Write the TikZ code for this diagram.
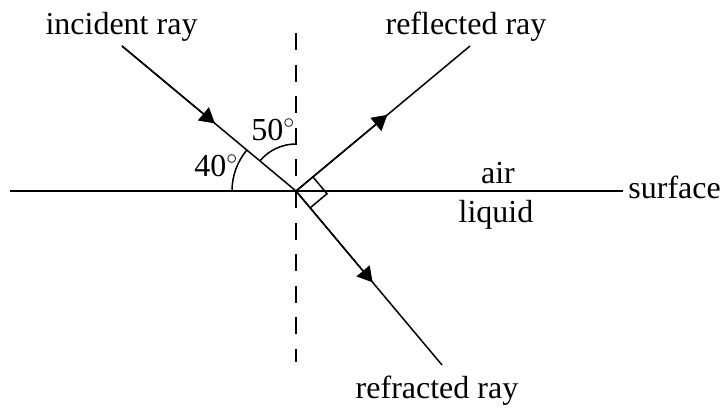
\documentclass[tikz,border=0pt]{standalone}
\usepackage{fontspec}
\setmainfont{Liberation Serif}
\usetikzlibrary{calc,arrows.meta}
\begin{document}
\begin{tikzpicture}[x=0.5pt,y=0.5pt,
  ray/.style={line width=0.75pt},
  tip/.style={line width=0.75pt,-{Triangle[length=7.5pt,width=8.5pt]}},
  lbl/.style={font=\fontsize{16}{19}\selectfont, inner sep=0pt, anchor=base}]
\useasboundingbox (0,0) rectangle (722,412);
% points
\coordinate (O) at (296,221);
\coordinate (I) at (122,366);
\coordinate (R) at (470,366);
\coordinate (F) at (442,47);
\coordinate (L) at (10,221);
\coordinate (S) at (623,221);
\coordinate (T) at (296,379);
\coordinate (B) at (296,50);
% surface and normal
\draw[ray] (L) -- (S);
\draw[ray, dash pattern=on 8.5pt off 7.3pt] (T) -- (B);
% rays
\draw[ray] (I) -- (O);
\draw[ray] (O) -- (R);
\draw[ray] (O) -- (F);
\draw[tip] (I) -- ($(I)!0.534!(O)$);
\draw[tip] (O) -- ($(O)!0.525!(R)$);
\draw[tip] (O) -- ($(O)!0.525!(F)$);
% right angle mark
\coordinate (ra) at ($(O)!11pt!(R)$);
\coordinate (rb) at ($(O)!11pt!(F)$);
\draw[ray] (ra) -- ($(ra)+(rb)-(O)$) -- (rb);
% angle arcs
\draw[ray] ($(O)+(180:32pt)$) arc[start angle=180, end angle=140.2, radius=32pt];
\draw[ray] ($(O)+(140.2:23.5pt)$) arc[start angle=140.2, end angle=90, radius=23.5pt];
% labels
\node[lbl] (inc) at (121.5,377) {incident ray};
\node[lbl] (refl) at (466,377) {reflected ray};
\node[lbl] (refr) at (437,14) {refracted ray};
\node[lbl] (air) at (498,228) {air};
\node[lbl] (liq) at (496,189) {liquid};
\node[lbl, anchor=base west] (surf) at (628,213) {surface};
\node[lbl, anchor=base west] (a40) at (194,235) {40$^{\circ}$};
\node[lbl, anchor=base west] (a50) at (251,271) {50$^{\circ}$};
\end{tikzpicture}
\end{document}
